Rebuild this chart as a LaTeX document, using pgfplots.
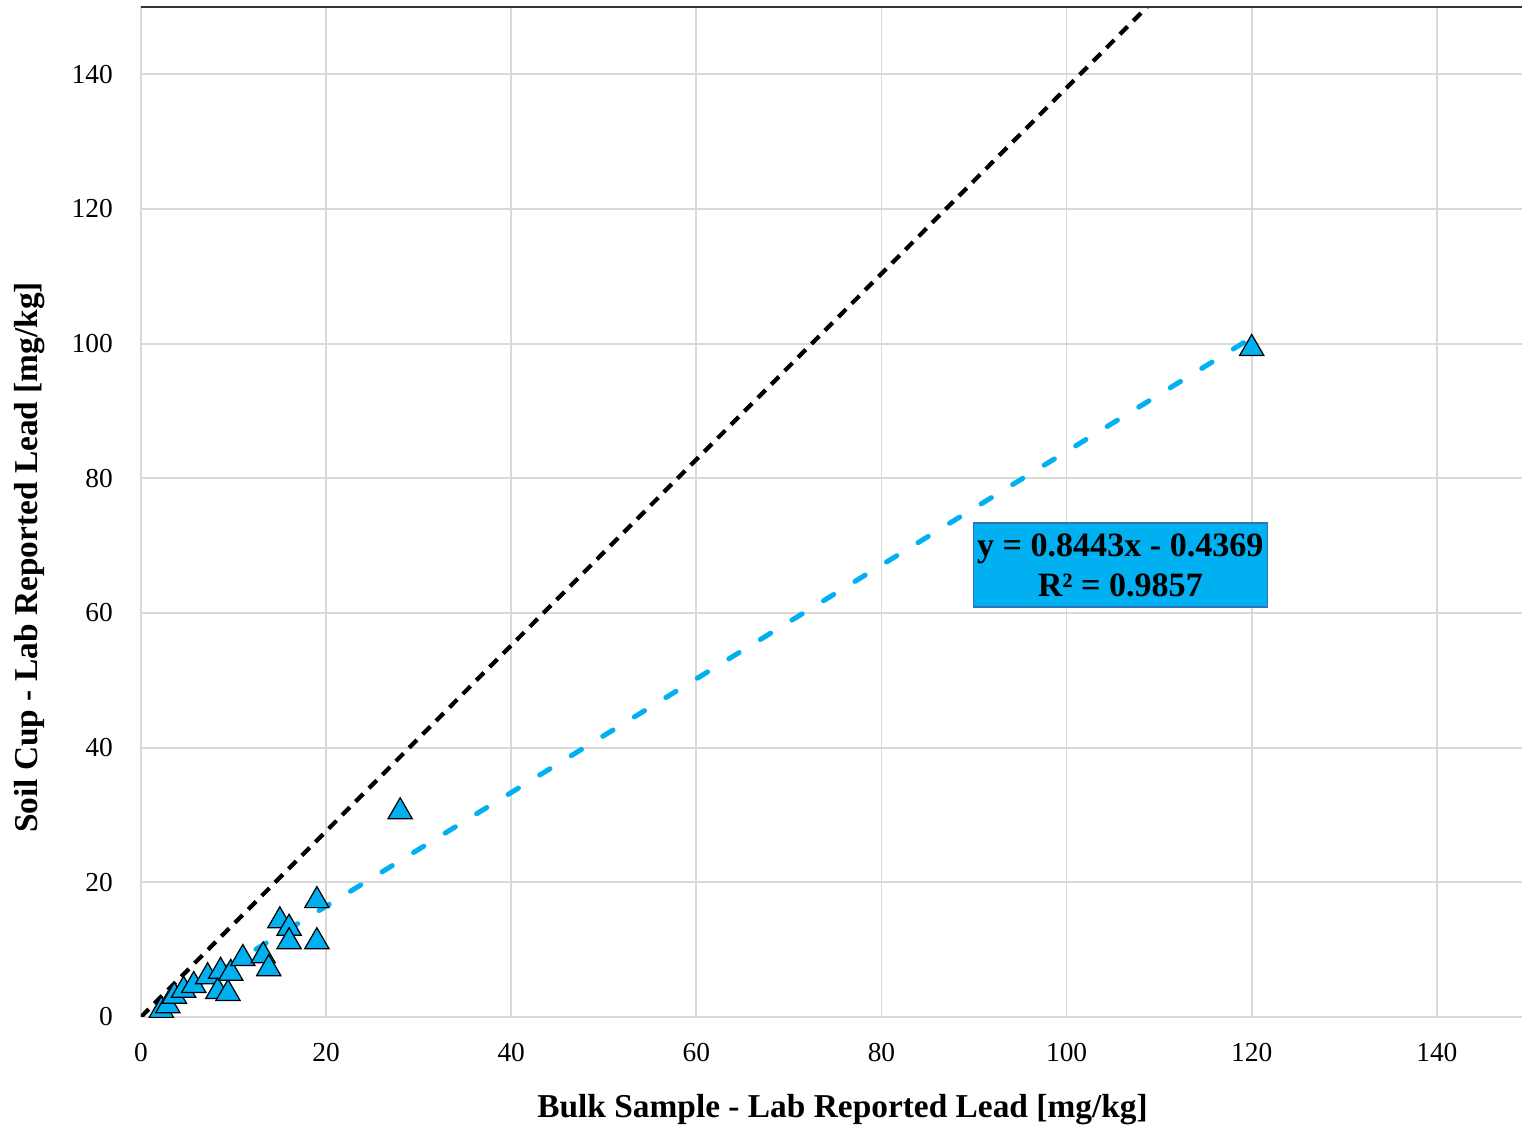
\documentclass[border=0pt]{standalone}
\usepackage{pgfplots}
\pgfplotsset{compat=1.18}
\usepackage{fontspec}
\setmainfont{Liberation Serif}
\definecolor{xlcyan}{HTML}{00B0F0}
\definecolor{gridgray}{HTML}{D9D9D9}
\definecolor{boxedge}{HTML}{2E75B6}

% paired results: bulk sample (x) vs soil cup (y), mg/kg
\pgfplotstableread{
x     y
2.2   1.5
2.9   2.2
3.6   3.6
4.6   4.5
5.7   5.2
7.2   6.5
8.3   4.3
9.4   4.0
8.6   7.3
9.7   7.0
11.0  9.2
13.2  9.6
13.8  7.7
15.0  14.8
16.0  13.7
16.0  11.7
19.0  17.8
19.0  11.7
28.0  31.0
120.0 99.8
}\pbdata

\begin{document}
\begin{tikzpicture}
\path[use as bounding box] (-14.1mm,-11.3mm) rectangle (138.3mm,101.7mm);
\begin{axis}[
  scale only axis,
  width=138.1mm, height=101mm,
  xmin=0, xmax=149.2, ymin=0, ymax=150,
  xtick={0,20,...,140}, ytick={0,20,...,140},
  axis x line*=bottom, axis y line*=left,
  axis line style={gridgray, line width=0.5pt, -},
  x axis line style={-}, y axis line style={-},
  major tick length=0pt,
  grid=major,
  grid style={gridgray, line width=0.5pt},
  tick label style={font=\fontsize{7.8}{9}\selectfont, text=black},
  /pgf/number format/assume math mode=true,
  xticklabel style={yshift=-4pt},
  yticklabel style={xshift=-4.5pt},
  xlabel={\textbf{Bulk Sample - Lab Reported Lead [mg/kg]}},
  ylabel={\textbf{Soil Cup - Lab Reported Lead [mg/kg]}},
  label style={font=\fontsize{9.5}{11}\selectfont},
  xlabel style={at={(rel axis cs:0.508,0)}, anchor=center, yshift=-9.3mm},
  ylabel style={at={(rel axis cs:0,0.455)}, anchor=center, yshift=11.1mm},
  clip=true,
]
% 45-degree reference line
\addplot[black, line width=0.42mm, dash pattern=on 1.1mm off 0.8mm, forget plot]
  coordinates {(0,0) (108.7,150)};
% linear fit y = 0.8443x - 0.4369
\addplot[xlcyan, line width=0.5mm, line cap=round, dash pattern=on 1.2mm off 2.5mm, forget plot]
  coordinates {(2.2,1.42) (120,100.88)};
% triangles centred on their bounding box
\addplot[only marks, mark=triangle*, mark size=1.4mm,
  mark options={fill=xlcyan, draw=black, line width=0.35pt, yshift=-0.35mm}]
  table[x=x, y=y] {\pbdata};
\draw[black!80, line width=0.7pt] (rel axis cs:0,1) -- (rel axis cs:1,1);
\node[fill=xlcyan, draw=boxedge, line width=0.4pt, minimum width=29.4mm, minimum height=8.4mm,
  align=center, font=\fontsize{9.7}{11.4}\selectfont\bfseries, inner sep=0pt]
  at (axis cs:105.8,67.1) {y = 0.8443x - 0.4369\\R² = 0.9857};
\end{axis}
\end{tikzpicture}
\end{document}
